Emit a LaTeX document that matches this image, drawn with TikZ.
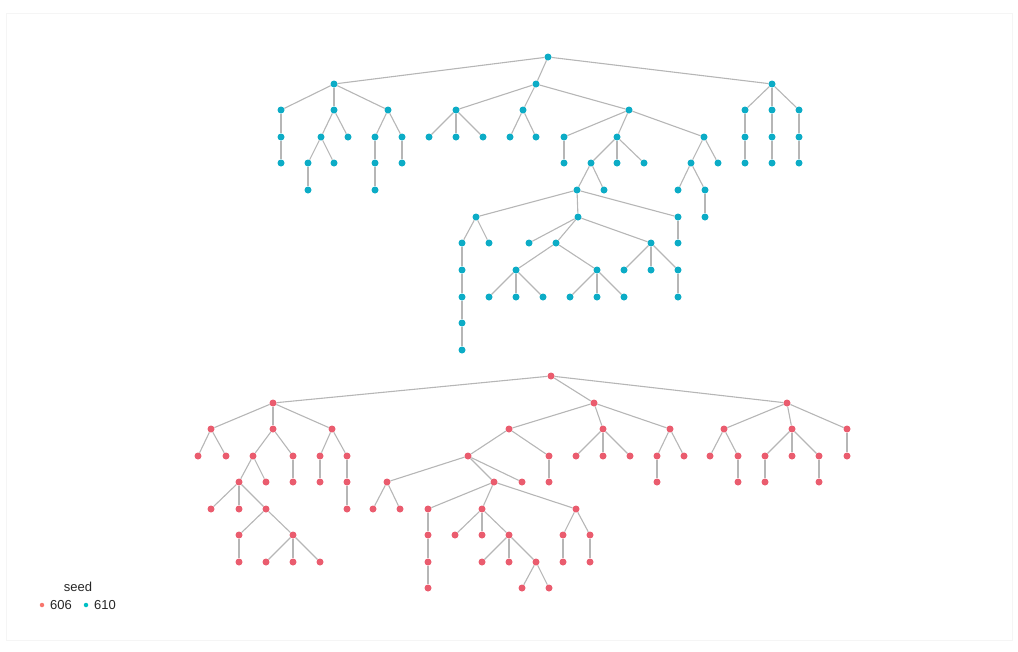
\documentclass[tikz,border=0pt]{standalone}
\usepackage{fontspec}
\setmainfont{Liberation Sans}
\usetikzlibrary{backgrounds}
\definecolor{tealc}{RGB}{12,172,198}
\definecolor{redc}{RGB}{234,92,110}
\definecolor{legred}{RGB}{248,118,109}
\definecolor{legteal}{RGB}{0,191,196}
\definecolor{edgec}{RGB}{182,182,182}
\tikzset{
  tnode/.style={circle,inner sep=0pt,minimum size=7pt,fill=tealc,draw=none},
  rnode/.style={circle,inner sep=0pt,minimum size=7pt,fill=redc,draw=none},
  edge/.style={draw=edgec,line width=1.1pt},
  legdot/.style={circle,inner sep=0pt,minimum size=4.5pt,draw=none},
  legtext/.style={font=\fontsize{13}{15}\selectfont,text=black!85,inner sep=0pt}
}
\newcommand\Tn[4]{\node[tnode] (#1) at (#2,#3) {};\begin{pgfonlayer}{background}\draw[edge] (#4) -- (#1);\end{pgfonlayer}}
\newcommand\Rn[4]{\node[rnode] (#1) at (#2,#3) {};\begin{pgfonlayer}{background}\draw[edge] (#4) -- (#1);\end{pgfonlayer}}
\begin{document}
\begin{tikzpicture}[x=1pt,y=-1pt]
\useasboundingbox (0,0) rectangle (1018,651);
\draw[black!4,line width=0.8pt] (6,13) rectangle (1012,640);
% ---------- top tree (seed 610) ----------
\node[tnode] (t0) at (548,57) {};
\Tn{tA}{334}{84}{t0}
\Tn{tB}{536}{84}{t0}
\Tn{tC}{772}{84}{t0}
\Tn{tA1}{281}{110}{tA}
\Tn{tA2}{334}{110}{tA}
\Tn{tA3}{388}{110}{tA}
\Tn{tA1a}{281}{137}{tA1}
\Tn{tA1b}{281}{163}{tA1a}
\Tn{tA2a}{321}{137}{tA2}
\Tn{tA2b}{348}{137}{tA2}
\Tn{tA2aa}{308}{163}{tA2a}
\Tn{tA2ab}{334}{163}{tA2a}
\Tn{tA2aaa}{308}{190}{tA2aa}
\Tn{tA3a}{375}{137}{tA3}
\Tn{tA3b}{402}{137}{tA3}
\Tn{tA3aa}{375}{163}{tA3a}
\Tn{tA3aaa}{375}{190}{tA3aa}
\Tn{tA3ba}{402}{163}{tA3b}
\Tn{tB1}{456}{110}{tB}
\Tn{tB2}{523}{110}{tB}
\Tn{tB3}{629}{110}{tB}
\Tn{tB1a}{429}{137}{tB1}
\Tn{tB1b}{456}{137}{tB1}
\Tn{tB1c}{483}{137}{tB1}
\Tn{tB2a}{510}{137}{tB2}
\Tn{tB2b}{536}{137}{tB2}
\Tn{tB3a}{564}{137}{tB3}
\Tn{tB3b}{617}{137}{tB3}
\Tn{tB3c}{704}{137}{tB3}
\Tn{tB3aa}{564}{163}{tB3a}
\Tn{tB3ba}{591}{163}{tB3b}
\Tn{tB3bb}{617}{163}{tB3b}
\Tn{tB3bc}{644}{163}{tB3b}
\Tn{tD}{577}{190}{tB3ba}
\Tn{tB3bab}{604}{190}{tB3ba}
\Tn{tD1}{476}{217}{tD}
\Tn{tD2}{578}{217}{tD}
\Tn{tD3}{678}{217}{tD}
\Tn{tD1a}{462}{243}{tD1}
\Tn{tD1b}{489}{243}{tD1}
\Tn{tD1aa}{462}{270}{tD1a}
\Tn{tD1ab}{462}{297}{tD1aa}
\Tn{tD1ac}{462}{323}{tD1ab}
\Tn{tD1ad}{462}{350}{tD1ac}
\Tn{tD2a}{529}{243}{tD2}
\Tn{tD2b}{556}{243}{tD2}
\Tn{tD2c}{651}{243}{tD2}
\Tn{tD2ba}{516}{270}{tD2b}
\Tn{tD2bb}{597}{270}{tD2b}
\Tn{tD2baa}{489}{297}{tD2ba}
\Tn{tD2bab}{516}{297}{tD2ba}
\Tn{tD2bac}{543}{297}{tD2ba}
\Tn{tD2bba}{570}{297}{tD2bb}
\Tn{tD2bbb}{597}{297}{tD2bb}
\Tn{tD2bbc}{624}{297}{tD2bb}
\Tn{tD2ca}{624}{270}{tD2c}
\Tn{tD2cb}{651}{270}{tD2c}
\Tn{tD2cc}{678}{270}{tD2c}
\Tn{tD2cca}{678}{297}{tD2cc}
\Tn{tD3a}{678}{243}{tD3}
\Tn{tB3ca}{691}{163}{tB3c}
\Tn{tB3cb}{718}{163}{tB3c}
\Tn{tB3caa}{678}{190}{tB3ca}
\Tn{tB3cab}{705}{190}{tB3ca}
\Tn{tB3caba}{705}{217}{tB3cab}
\Tn{tC1}{745}{110}{tC}
\Tn{tC2}{772}{110}{tC}
\Tn{tC3}{799}{110}{tC}
\Tn{tC1a}{745}{137}{tC1}
\Tn{tC2a}{772}{137}{tC2}
\Tn{tC3a}{799}{137}{tC3}
\Tn{tC1b}{745}{163}{tC1a}
\Tn{tC2b}{772}{163}{tC2a}
\Tn{tC3b}{799}{163}{tC3a}
% ---------- bottom tree (seed 606) ----------
\node[rnode] (r0) at (551,376) {};
\Rn{rA}{273}{403}{r0}
\Rn{rB}{594}{403}{r0}
\Rn{rC}{787}{403}{r0}
\Rn{rA1}{211}{429}{rA}
\Rn{rA2}{273}{429}{rA}
\Rn{rA3}{332}{429}{rA}
\Rn{rA1a}{198}{456}{rA1}
\Rn{rA1b}{226}{456}{rA1}
\Rn{rA2a}{253}{456}{rA2}
\Rn{rA2b}{293}{456}{rA2}
\Rn{rA2ba}{293}{482}{rA2b}
\Rn{rA2aa}{239}{482}{rA2a}
\Rn{rA2ab}{266}{482}{rA2a}
\Rn{rE1}{211}{509}{rA2aa}
\Rn{rE2}{239}{509}{rA2aa}
\Rn{rE3}{266}{509}{rA2aa}
\Rn{rE3a}{239}{535}{rE3}
\Rn{rE3b}{293}{535}{rE3}
\Rn{rE3aa}{239}{562}{rE3a}
\Rn{rE3ba}{266}{562}{rE3b}
\Rn{rE3bb}{293}{562}{rE3b}
\Rn{rE3bc}{320}{562}{rE3b}
\Rn{rA3a}{320}{456}{rA3}
\Rn{rA3b}{347}{456}{rA3}
\Rn{rA3aa}{320}{482}{rA3a}
\Rn{rA3ba}{347}{482}{rA3b}
\Rn{rA3bb}{347}{509}{rA3ba}
\Rn{rB1}{509}{429}{rB}
\Rn{rB2}{603}{429}{rB}
\Rn{rB3}{670}{429}{rB}
\Rn{rF}{468}{456}{rB1}
\Rn{rB1b}{549}{456}{rB1}
\Rn{rB1ba}{549}{482}{rB1b}
\Rn{rF1}{387}{482}{rF}
\Rn{rF2}{494}{482}{rF}
\Rn{rF3}{522}{482}{rF}
\Rn{rF1a}{373}{509}{rF1}
\Rn{rF1b}{400}{509}{rF1}
\Rn{rG1}{428}{509}{rF2}
\Rn{rG2}{482}{509}{rF2}
\Rn{rG3}{576}{509}{rF2}
\Rn{rG1a}{428}{535}{rG1}
\Rn{rG1b}{428}{562}{rG1a}
\Rn{rG1c}{428}{588}{rG1b}
\Rn{rG2a}{455}{535}{rG2}
\Rn{rG2b}{482}{535}{rG2}
\Rn{rG2c}{509}{535}{rG2}
\Rn{rG2ca}{482}{562}{rG2c}
\Rn{rG2cb}{509}{562}{rG2c}
\Rn{rG2cc}{536}{562}{rG2c}
\Rn{rG2cca}{522}{588}{rG2cc}
\Rn{rG2ccb}{549}{588}{rG2cc}
\Rn{rG3a}{563}{535}{rG3}
\Rn{rG3b}{590}{535}{rG3}
\Rn{rG3aa}{563}{562}{rG3a}
\Rn{rG3ba}{590}{562}{rG3b}
\Rn{rB2a}{576}{456}{rB2}
\Rn{rB2b}{603}{456}{rB2}
\Rn{rB2c}{630}{456}{rB2}
\Rn{rB3a}{657}{456}{rB3}
\Rn{rB3b}{684}{456}{rB3}
\Rn{rB3aa}{657}{482}{rB3a}
\Rn{rC1}{724}{429}{rC}
\Rn{rC2}{792}{429}{rC}
\Rn{rC3}{847}{429}{rC}
\Rn{rC1a}{710}{456}{rC1}
\Rn{rC1b}{738}{456}{rC1}
\Rn{rC1ba}{738}{482}{rC1b}
\Rn{rC2a}{765}{456}{rC2}
\Rn{rC2b}{792}{456}{rC2}
\Rn{rC2c}{819}{456}{rC2}
\Rn{rC2aa}{765}{482}{rC2a}
\Rn{rC2ca}{819}{482}{rC2c}
\Rn{rC3a}{847}{456}{rC3}
% ---------- legend ----------
\node[legtext] (legtitle) at (78,587) {seed};
\node[legdot,fill=legred] (ld1) at (42,605) {};
\node[legtext,anchor=west] (l606) at (50,605) {606};
\node[legdot,fill=legteal] (ld2) at (86,605) {};
\node[legtext,anchor=west] (l610) at (94,605) {610};
\end{tikzpicture}
\end{document}
